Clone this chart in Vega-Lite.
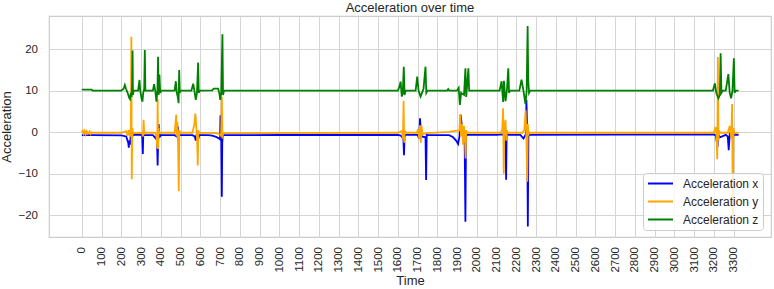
{
  "$schema": "https://vega.github.io/schema/vega-lite/v6.json",
  "width": 722,
  "height": 221,
  "autosize": {"type": "none"},
  "padding": {"left": 49, "top": 16, "right": 3, "bottom": 52},
  "background": "white",
  "title": {"text": "Acceleration over time", "fontSize": 13, "font": "Liberation Sans", "fontWeight": "normal", "color": "#262626", "offset": 1},
  "config": {"view": {"stroke": "#cccccc", "strokeWidth": 1.2}, "font": "Liberation Sans"},
  "datasets": {
    "ax": [[0,-0.7],[50,-0.7],[200,-0.75],[225,-1.0],[235,-2.5],[238,-3.7],[241,-2.0],[244,-3.0],[247,-1.2],[250,-0.5],[252,1.0],[254,-1.5],[256,-0.8],[262,-0.6],[300,-0.6],[306,-0.9],[309,-5.2],[311,-1.0],[314,0.5],[317,-0.7],[360,-0.7],[375,-1.5],[380,-0.5],[384,-8.0],[386,-3.0],[389,2.0],[392,-0.4],[396,-1.0],[400,-0.7],[470,-0.7],[480,-1.0],[487,1.4],[490,-2.0],[494,-0.5],[500,-0.7],[560,-0.7],[572,-1.0],[577,-2.0],[582,-0.3],[590,-1.5],[595,-0.7],[640,-0.7],[660,-0.8],[680,-1.1],[695,-1.5],[700,-1.7],[702,4.1],[706,-1.0],[709,-15.5],[711,-2.5],[714,-0.7],[1000,-0.65],[1600,-0.6],[1615,-0.8],[1628,-1.5],[1631,-5.5],[1634,-1.0],[1640,-0.6],[1700,-0.6],[1708,-1.5],[1712,3.4],[1716,0.5],[1720,-1.0],[1740,-1.2],[1743,-11.5],[1746,-0.5],[1750,-0.7],[1860,-0.7],[1880,-1.2],[1895,-2.0],[1905,-2.8],[1912,-1.0],[1918,4.2],[1925,1.0],[1932,-0.5],[1938,-1.5],[1942,-21.5],[1945,-1.0],[1950,-0.6],[2100,-0.6],[2130,-0.5],[2145,-1.0],[2148,-11.4],[2151,0.5],[2155,-0.5],[2160,-0.6],[2220,-0.6],[2236,-1.5],[2248,-0.5],[2251,7.8],[2255,-1.0],[2258,-22.7],[2261,-1.0],[2265,-0.6],[3200,-0.5],[3210,-0.8],[3218,-3.5],[3222,-0.5],[3230,-1.2],[3260,-0.6],[3270,-1.0],[3275,-4.3],[3280,-0.5],[3295,-1.5],[3300,-0.6],[3325,-0.6]],
    "ay": [[0,0.0],[5,0.4],[10,-0.4],[15,0.3],[20,-0.5],[25,0.2],[30,-0.3],[40,0.2],[45,-0.4],[50,0.0],[55,-0.1],[200,-0.1],[225,0.3],[232,-0.8],[238,0.6],[244,-1.0],[248,0.5],[251,23.0],[253,-11.3],[256,1.0],[259,-0.5],[262,-0.1],[305,-0.2],[310,-1.0],[313,3.0],[316,-0.5],[320,-0.1],[370,-0.1],[378,-0.8],[382,-3.8],[384,8.0],[386,-4.0],[389,1.0],[392,-0.3],[396,-0.1],[470,-0.1],[474,2.0],[478,4.3],[481,-1.0],[484,2.5],[487,-1.5],[491,-14.1],[494,0.5],[498,-0.1],[560,-0.1],[570,2.0],[575,4.5],[580,1.0],[584,-2.0],[587,-8.0],[590,0.5],[594,-0.1],[680,-0.2],[700,-0.5],[705,-1.0],[709,8.5],[712,-1.5],[715,-0.2],[1600,-0.1],[1620,0.3],[1626,-1.5],[1629,7.6],[1632,-2.5],[1635,0.5],[1640,-0.1],[1695,-0.1],[1703,0.8],[1708,-1.5],[1712,1.7],[1716,-2.5],[1720,1.5],[1725,-0.5],[1745,-0.2],[1860,0.1],[1880,0.3],[1900,0.4],[1912,0.5],[1916,4.4],[1920,-1.0],[1925,2.0],[1930,-3.0],[1935,1.5],[1940,-2.0],[1943,-6.3],[1946,0.5],[1950,-0.1],[2120,-0.1],[2128,0.5],[2133,5.8],[2136,-10.0],[2139,1.0],[2145,3.0],[2149,-2.0],[2152,0.5],[2156,-0.1],[2230,-0.1],[2240,0.5],[2247,5.3],[2251,-2.0],[2255,-11.9],[2258,2.0],[2262,-0.5],[2266,-0.1],[3200,-0.1],[3208,1.3],[3213,-0.5],[3217,-6.5],[3220,18.1],[3223,-2.0],[3226,0.5],[3230,-0.1],[3270,-0.1],[3280,1.5],[3288,-1.5],[3292,6.8],[3296,-20.0],[3299,1.0],[3303,-0.3],[3325,-0.1]],
    "az": [[0,10.3],[50,10.3],[55,10.05],[200,10.05],[212,10.5],[218,11.4],[224,10.5],[232,9.5],[240,8.3],[244,8.0],[248,9.5],[252,8.5],[255,12.0],[257,19.7],[259,9.0],[263,10.05],[285,10.05],[292,12.6],[296,10.0],[303,8.0],[307,7.4],[311,9.5],[316,10.5],[319,19.8],[322,10.05],[360,10.05],[366,11.6],[372,10.0],[378,7.4],[383,10.0],[386,18.2],[389,9.0],[393,13.9],[397,9.5],[402,10.05],[470,10.05],[476,12.3],[481,9.5],[486,8.5],[490,7.0],[493,15.0],[496,9.5],[500,10.05],[555,10.05],[564,11.7],[570,10.0],[577,7.8],[583,9.5],[589,16.8],[592,9.5],[598,10.05],[660,10.1],[668,10.5],[690,10.5],[696,9.5],[701,7.8],[706,9.5],[712,23.6],[715,9.0],[720,10.05],[1600,10.05],[1608,11.0],[1614,12.2],[1620,8.6],[1625,9.5],[1630,15.8],[1634,9.0],[1640,10.05],[1690,10.05],[1698,13.4],[1705,10.0],[1715,8.6],[1722,9.5],[1730,10.5],[1740,15.8],[1744,9.5],[1750,10.05],[1850,10.05],[1855,10.4],[1860,10.05],[1900,10.05],[1908,10.7],[1914,6.6],[1920,9.5],[1935,9.0],[1942,15.4],[1946,8.5],[1952,12.0],[1957,15.4],[1961,10.05],[2115,10.05],[2125,12.3],[2133,7.3],[2137,12.4],[2145,7.5],[2152,10.0],[2159,15.4],[2163,9.5],[2168,10.05],[2215,10.05],[2226,12.7],[2236,10.0],[2246,6.8],[2252,10.0],[2257,25.6],[2260,12.7],[2264,9.5],[2270,10.05],[3195,10.05],[3205,11.8],[3212,9.5],[3223,8.2],[3230,9.0],[3234,19.0],[3238,9.5],[3245,10.05],[3260,10.05],[3273,14.0],[3280,9.5],[3287,8.2],[3294,10.0],[3301,17.8],[3305,9.5],[3310,10.05],[3325,10.05]]
  },
  "encoding": {
    "x": {"field": "0", "type": "quantitative", "scale": {"domain": [-166, 3489], "nice": false, "zero": false}, "axis": {"title": "Time", "values": [0,100,200,300,400,500,600,700,800,900,1000,1100,1200,1300,1400,1500,1600,1700,1800,1900,2000,2100,2200,2300,2400,2500,2600,2700,2800,2900,3000,3100,3200,3300], "format": "d", "labelAngle": -90, "labelFontSize": 11.5, "labelColor": "#262626", "labelPadding": 9.5, "ticks": false, "domain": false, "grid": true, "gridColor": "#d4d4d4", "gridWidth": 1, "titleFontSize": 13, "titleFontWeight": "normal", "titleColor": "#262626", "titlePadding": 2, "labelFlush": false, "labelOverlap": false}},
    "y": {"field": "1", "type": "quantitative", "scale": {"domain": [-25.2, 28.0], "nice": false, "zero": false}, "axis": {"title": "Acceleration", "values": [-20,-10,0,10,20], "labelFontSize": 11.5, "labelColor": "#262626", "labelPadding": 11.5, "ticks": false, "domain": false, "grid": true, "gridColor": "#d4d4d4", "gridWidth": 1, "titleFontSize": 13, "titleFontWeight": "normal", "titleColor": "#262626", "titlePadding": 4}}
  },
  "layer": [
    {
      "data": {"name": "ax"},
      "mark": {"type": "line", "strokeWidth": 1.8, "clip": true},
      "encoding": {
        "color": {"datum": "Acceleration x", "scale": {"domain": ["Acceleration x", "Acceleration y", "Acceleration z"], "range": ["blue", "orange", "green"]}, "legend": {"title": null, "orient": "none", "legendX": 594, "legendY": 157, "symbolType": "stroke", "symbolSize": 625, "symbolStrokeWidth": 1.8, "labelFontSize": 12, "labelColor": "#262626", "labelFont": "Liberation Sans", "fillColor": "rgba(255,255,255,0.8)", "strokeColor": "#cccccc", "cornerRadius": 3, "padding": 4, "rowPadding": 5, "clipHeight": 13, "labelOffset": 9}}
      }
    },
    {
      "data": {"name": "ay"},
      "mark": {"type": "line", "strokeWidth": 1.8, "clip": true},
      "encoding": {"color": {"datum": "Acceleration y"}}
    },
    {
      "data": {"name": "az"},
      "mark": {"type": "line", "strokeWidth": 1.8, "clip": true},
      "encoding": {"color": {"datum": "Acceleration z"}}
    }
  ]
}
